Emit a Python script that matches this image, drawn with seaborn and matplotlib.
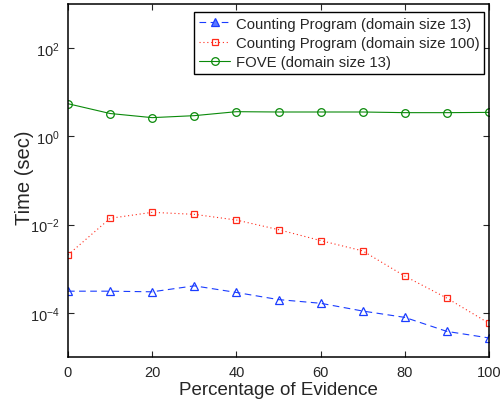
import numpy as np
import pandas as pd
import matplotlib
matplotlib.use('Agg')
from matplotlib import pyplot as plt
import seaborn as sns

# percentage of evidence
evidence = [0, 10, 20, 30, 40, 50, 60, 70, 80, 90, 100]

# time (sec)
counting_13 = [3.1e-4, 3.1e-4, 3.0e-4, 4.1e-4, 2.9e-4, 2.0e-4, 1.65e-4, 1.1e-4, 7.9e-5, 3.8e-5, 2.7e-5]
counting_100 = [2.06e-3, 1.39e-2, 1.9e-2, 1.71e-2, 1.27e-2, 7.7e-3, 4.35e-3, 2.54e-3, 6.8e-4, 2.16e-4, 5.8e-5]
fove_13 = [5.5, 3.3, 2.66, 2.95, 3.63, 3.57, 3.57, 3.57, 3.45, 3.45, 3.5]

labels = ['Counting Program (domain size 13)',
          'Counting Program (domain size 100)',
          'FOVE (domain size 13)']

sns.set_style('ticks')
plt.rcParams['font.family'] = ['Liberation Sans', 'DejaVu Sans']
plt.rcParams['mathtext.fontset'] = 'custom'
plt.rcParams['mathtext.rm'] = 'Liberation Sans'
plt.rcParams['mathtext.it'] = 'Liberation Sans'

fig = plt.figure(figsize=(5, 4.02), dpi=100)
ax = fig.add_axes([0.136, 0.1095, 0.842, 0.878])

styles = [
    dict(color='#1a3cff', linestyle=(0, (6, 4)), marker='^', markersize=6),
    dict(color='#ff2a1a', linestyle=(0, (1, 2.5)), marker='s', markersize=5),
    dict(color='#0a8a0a', linestyle='-', marker='o', markersize=5.5),
]
series = [counting_13, counting_100, fove_13]

for vals, lab, st in zip(series, labels, styles):
    df = pd.DataFrame({'evidence': evidence, 'time': vals})
    sns.lineplot(data=df, x='evidence', y='time', ax=ax, label=lab,
                 color=st['color'], linestyle=st['linestyle'], linewidth=0.8,
                 marker=st['marker'], markersize=st['markersize'],
                 markerfacecolor='none', markeredgecolor=st['color'],
                 markeredgewidth=0.9)

ax.set_yscale('log')
ax.set_ylim(1e-5, 1e3)
ax.set_xlim(0, 100)
ax.set_yticks([1e-4, 1e-2, 1e0, 1e2])
ax.yaxis.set_minor_locator(matplotlib.ticker.NullLocator())
ax.set_xticks([0, 20, 40, 60, 80, 100])
ax.tick_params(direction='in', top=True, right=True, length=4, width=0.8,
               labelsize=10.5, pad=6)

for sp in ax.spines.values():
    sp.set_linewidth(1.1)
    sp.set_color('black')

ax.set_xlabel('Percentage of Evidence', fontsize=13.5, labelpad=1)
ax.set_ylabel('Time (sec)', fontsize=14.5)
ax.yaxis.set_label_coords(-0.08, 0.51)

leg = ax.legend(loc='upper right', bbox_to_anchor=(0.988, 0.978), fontsize=10.7,
                frameon=True, fancybox=False, framealpha=1, edgecolor='black',
                borderpad=0.32, labelspacing=0.36, handlelength=2.1,
                handletextpad=0.35, borderaxespad=0)
leg.get_frame().set_linewidth(1.0)
# the legend triangle is drawn filled in the original
leg.legend_handles[0].set_markerfacecolor('#5a78ff')

fig.savefig('out.png', dpi=100)
